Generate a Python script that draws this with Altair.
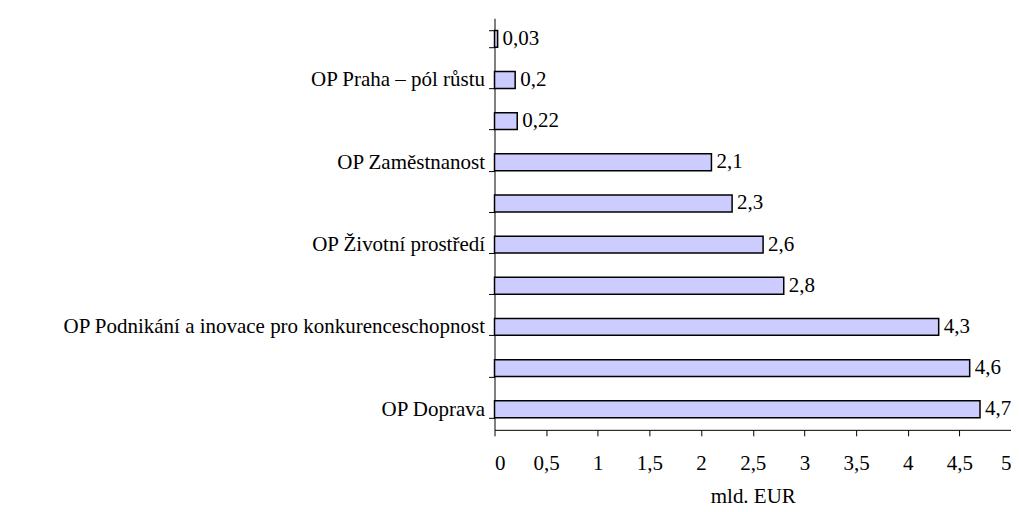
import altair as alt
import pandas as pd

# top-to-bottom order
labels = ["", "OP Praha – pól růstu", "", "OP Zaměstnanost", "", "OP Životní prostředí",
          "", "OP Podnikání a inovace pro konkurenceschopnost", "", "OP Doprava"]
values = [0.03, 0.2, 0.22, 2.1, 2.3, 2.6, 2.8, 4.3, 4.6, 4.7]
x_ticks = [0, 0.5, 1, 1.5, 2, 2.5, 3, 3.5, 4, 4.5, 5]

df = pd.DataFrame({"idx": list(range(len(values))), "value": values})

label_arr = "[" + ",".join('"' + l + '"' for l in labels) + "]"
FONT = "Liberation Serif"
FS = 21

y = alt.Y("idx:O", sort="ascending",
          scale=alt.Scale(paddingInner=0.59, paddingOuter=0.295),
          axis=alt.Axis(title=None, labelExpr=label_arr + "[datum.value]",
                        tickBand="extent", tickSize=6, labelPadding=4,
                        labelFont=FONT, labelFontSize=FS, labelColor="black",
                        domainColor="black", tickColor="black", labelLimit=0))
x = alt.X("value:Q", scale=alt.Scale(domain=[0, 5], nice=False),
          axis=alt.Axis(title="mld. EUR", values=x_ticks, grid=False,
                        labelExpr="replace(toString(datum.value), '.', ',')",
                        labelFont=FONT, labelFontSize=FS, labelColor="black",
                        titleFont=FONT, titleFontSize=FS, titleFontWeight="normal",
                        titleColor="black", titleBaseline="alphabetic", titleY=73,
                        labelPadding=17,
                        tickSize=6, domainColor="black", tickColor="black"))

bars = alt.Chart(df).mark_bar(fill="#ccccff", stroke="black", strokeWidth=1.5).encode(x=x, y=y)
text = alt.Chart(df).mark_text(align="left", baseline="middle", dx=5, font=FONT,
                               fontSize=FS, color="black").encode(
    x="value:Q", y=alt.Y("idx:O", sort="ascending"),
    text=alt.Text("lbl:N")).transform_calculate(lbl="replace(toString(datum.value), '.', ',')")

chart = (bars + text).properties(
    width=517, height=412,
    autosize=alt.AutoSizeParams(type="none"),
    padding={"left": 487, "top": 10, "right": 0, "bottom": 79},
).configure_view(stroke=None)
chart.save("out.html", embed_options={"renderer": "svg", "actions": False})
